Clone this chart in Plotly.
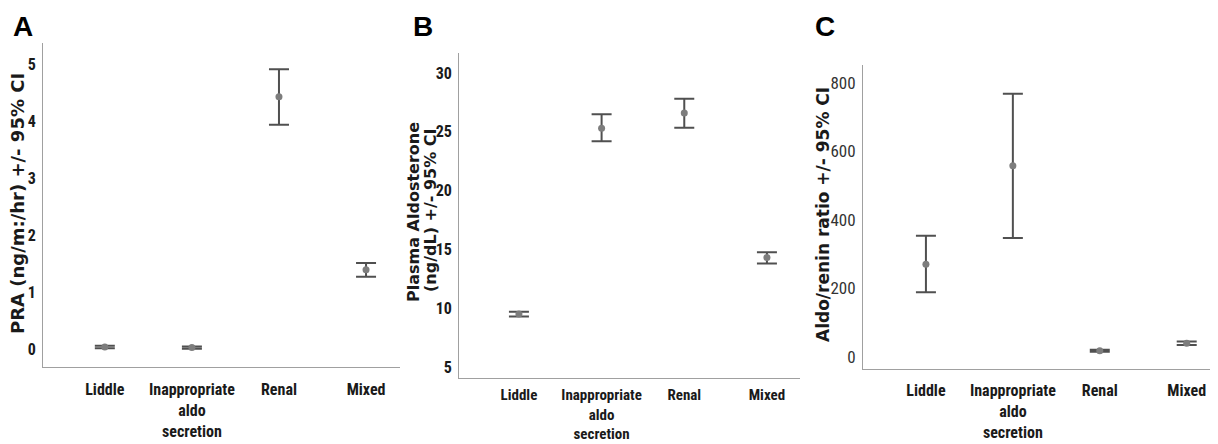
import plotly.graph_objects as go

categories = ["Liddle", "Inappropriate<br>aldo<br>secretion", "Renal", "Mixed"]

# Panel A: PRA (ng/ml/hr)
pra_mean = [0.05, 0.04, 4.43, 1.40]
pra_low = [0.03, 0.02, 3.94, 1.28]
pra_high = [0.07, 0.06, 4.91, 1.52]

# Panel B: Plasma aldosterone (ng/dL)
aldo_mean = [9.5, 25.3, 26.6, 14.3]
aldo_low = [9.3, 24.2, 25.35, 13.8]
aldo_high = [9.7, 26.5, 27.8, 14.75]

# Panel C: Aldo/renin ratio
arr_mean = [271, 558, 18, 40]
arr_low = [189, 347, 15, 35]
arr_high = [354, 768, 21, 45]

yticks_a = [0, 1, 2, 3, 4, 5]
yticks_b = [5, 10, 15, 20, 25, 30]
yticks_c = [0, 200, 400, 600, 800]

title_a = "PRA (ng/m:/hr) +/- 95% CI"
title_b = ["Plasma Aldosterone", "(ng/dL) +/- 95% CI"]
title_c = "Aldo/renin ratio +/- 95% CI"

W, H = 1218, 444
OFF = 8  # page body margin: the figure is drawn 8px right/down in the window
TICKF = "Roboto Condensed, Arial Narrow, Roboto, sans-serif"
TITLEF = "DejaVu Sans, Liberation Sans, sans-serif"
LETTERF = "Liberation Sans, Arial, sans-serif"

fig = go.Figure()

panels = [
    (pra_mean, pra_low, pra_high, "x", "y"),
    (aldo_mean, aldo_low, aldo_high, "x2", "y2"),
    (arr_mean, arr_low, arr_high, "x3", "y3"),
]
xpos = list(range(len(categories)))
for mean, low, high, xa, ya in panels:
    fig.add_trace(go.Scatter(
        x=xpos, y=mean, mode="markers", xaxis=xa, yaxis=ya,
        marker=dict(color="#7d7d7d", size=7),
        error_y=dict(type="data", symmetric=False,
                     array=[h - m for h, m in zip(high, mean)],
                     arrayminus=[m - l for m, l in zip(mean, low)],
                     color="#505050", thickness=2, width=10),
        showlegend=False, hoverinfo="skip",
    ))


def fx(px):
    return (px - OFF) / W


def fy(py):
    return 1 - (py - OFF) / H


def px_x(a, b):
    return [fx(a), min(1.0, fx(b))]


def px_y(top, bottom):
    return [fy(bottom), fy(top)]


axis_common = dict(showgrid=False, zeroline=False, showline=True,
                   linecolor="#a0a0a0", linewidth=1, mirror=False)


def xaxis_opts(ticklen, size=16):
    return dict(ticks="outside", ticklen=ticklen, tickcolor="rgba(0,0,0,0)",
                tickmode="array", tickvals=xpos, ticktext=categories,
                tickfont=dict(family=TICKF, size=size, color="#1a1a1a", weight="bold"),
                **axis_common)


yaxis_common = dict(ticks="outside", ticklen=3, tickcolor="rgba(0,0,0,0)",
                    tickmode="array", **axis_common)

layout = dict(
    width=W, height=H, margin=dict(l=0, r=0, t=0, b=0),
    paper_bgcolor="white", plot_bgcolor="white",
    xaxis=dict(domain=px_x(43, 400), range=[-0.71, 3.39], anchor="y", **xaxis_opts(8)),
    yaxis=dict(domain=px_y(43, 367), range=[-0.30, 5.37], tickvals=yticks_a,
               tickfont=dict(family=TICKF, size=16, color="#1a1a1a", weight="bold"),
               anchor="x", **yaxis_common),
    xaxis2=dict(domain=px_x(459, 800), range=[-0.725, 3.40], anchor="y2", **xaxis_opts(3, 15)),
    yaxis2=dict(domain=px_y(53, 378), range=[4.06, 31.7], tickvals=yticks_b,
                tickfont=dict(family=TICKF, size=16, color="#1a1a1a", weight="bold"),
                anchor="x2", **yaxis_common),
    xaxis3=dict(domain=px_x(863, 1218), range=[-0.724, 3.36], anchor="y3", **xaxis_opts(7)),
    yaxis3=dict(domain=px_y(65, 369), range=[-35, 852], tickvals=yticks_c,
                tickfont=dict(family=TICKF, size=17, color="#333333"),
                anchor="x3", **yaxis_common),
)
fig.update_layout(**layout)

annotations = [
    dict(text="<b>A</b>", x=fx(11), y=fy(9), xanchor="left", yanchor="top",
         font=dict(family=LETTERF, size=28, color="black")),
    dict(text="<b>B</b>", x=fx(411), y=fy(9), xanchor="left", yanchor="top",
         font=dict(family=LETTERF, size=28, color="black")),
    dict(text="<b>C</b>", x=fx(813), y=fy(9), xanchor="left", yanchor="top",
         font=dict(family=LETTERF, size=28, color="black")),
    dict(text="<b>" + title_a + "</b>", x=fx(18), y=fy(204),
         xanchor="center", yanchor="middle", textangle=-90,
         font=dict(family=TITLEF, size=18, color="#1a1a1a")),
    dict(text="<b>" + title_b[0] + "</b>", x=fx(413), y=fy(212),
         xanchor="center", yanchor="middle", textangle=-90,
         font=dict(family=TITLEF, size=16, color="#1a1a1a")),
    dict(text="<b>" + title_b[1] + "</b>", x=fx(430), y=fy(210),
         xanchor="center", yanchor="middle", textangle=-90,
         font=dict(family=TITLEF, size=16, color="#1a1a1a")),
    dict(text="<b>" + title_c + "</b>", x=fx(823), y=fy(215),
         xanchor="center", yanchor="middle", textangle=-90,
         font=dict(family=TITLEF, size=17, color="#1a1a1a")),
]
for a in annotations:
    a.update(xref="paper", yref="paper", showarrow=False)
fig.update_layout(annotations=annotations)

fig.write_html("out.html")
